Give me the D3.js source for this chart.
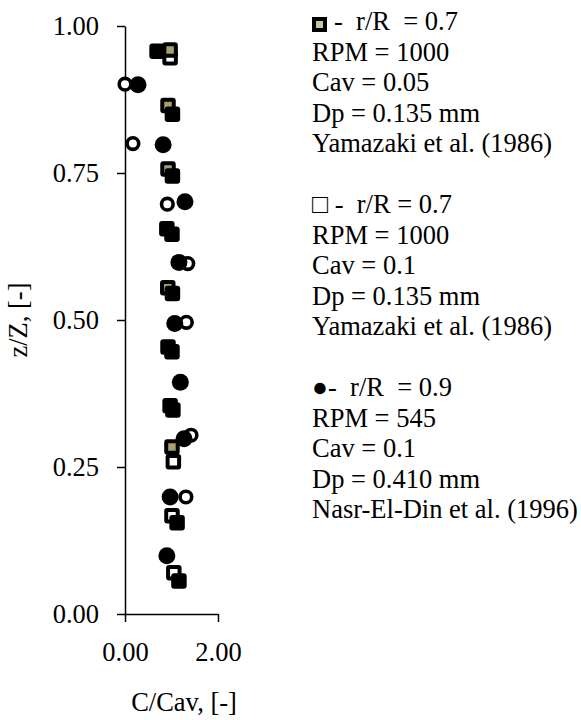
<!DOCTYPE html>
<html>
<head>
<meta charset="utf-8">
<script src="https://cdn.jsdelivr.net/npm/d3@7"></script>
<style>
body { margin: 0; background: #fff; }
text { font-family: "Liberation Serif", "Times New Roman", serif; }
</style>
</head>
<body>
<div></div>
<script>
// points: [C/Cav, z/Z]
const squaresCav005 = [[0.97, 0.959], [0.925, 0.865], [0.925, 0.757], [0.92, 0.555], [1.01, 0.284]];
const squaresCav01 = [[0.97, 0.946], [1.04, 0.259], [1.01, 0.167], [1.05, 0.07]];
const squaresBlack = [[0.69, 0.957], [1.02, 0.85], [1.02, 0.745], [0.9, 0.655], [1.01, 0.646],
  [1.02, 0.545], [0.925, 0.454], [1.01, 0.446], [0.97, 0.354], [1.03, 0.347], [1.12, 0.155], [1.16, 0.056]];
const circlesOpen = [[0.0, 0.901], [0.17, 0.8], [0.91, 0.697], [1.35, 0.596], [1.32, 0.496], [1.42, 0.304], [1.31, 0.199]];
const circlesNasr = [[0.28, 0.9], [0.82, 0.798], [1.29, 0.701], [1.16, 0.598], [1.07, 0.494], [1.19, 0.394],
  [1.27, 0.298], [0.97, 0.199], [0.9, 0.099]];

const xTicks = [0, 2];
const yTicks = [0, 0.25, 0.5, 0.75, 1];

const legend1 = ["-  r/R  = 0.7", "RPM = 1000", "Cav = 0.05", "Dp = 0.135 mm", "Yamazaki et al. (1986)"];
const legend2 = ["\u25A1 -  r/R = 0.7", "RPM = 1000", "Cav = 0.1", "Dp = 0.135 mm", "Yamazaki et al. (1986)"];
const legend3 = ["\u25CF-  r/R  = 0.9", "RPM = 545", "Cav = 0.1", "Dp = 0.410 mm", "Nasr-El-Din et al. (1996)"];

const WIDTH = 581;
const HEIGHT = 720;
const FONT = 26.5;
const KHAKI = "#a89f70";

const svg = d3.select("div").append("svg")
  .attr("width", WIDTH)
  .attr("height", HEIGHT);

const x = d3.scaleLinear().domain([0, 2]).range([125, 218]);
const y = d3.scaleLinear().domain([0, 1]).range([614, 26]);

// axes
const gy = svg.append("g")
  .attr("transform", "translate(125,0)")
  .call(d3.axisLeft(y).tickValues(yTicks).tickFormat(d3.format(".2f"))
    .tickSize(8).tickSizeOuter(0).tickPadding(18));

const gx = svg.append("g")
  .attr("transform", "translate(0,614)")
  .call(d3.axisBottom(x).tickValues(xTicks).tickFormat(d3.format(".2f"))
    .tickSize(8).tickSizeOuter(0).tickPadding(20));

[gx, gy].forEach(g => {
  g.attr("font-family", null).attr("font-size", FONT);
  g.selectAll("path, line").attr("stroke", "#000").attr("stroke-width", 1.5);
  g.selectAll("text").attr("fill", "#000");
});

svg.append("text")
  .attr("transform", "translate(27,320) rotate(-90)")
  .attr("text-anchor", "middle")
  .attr("font-size", FONT)
  .text("z/Z, [-]");

svg.append("text")
  .attr("x", 184)
  .attr("y", 711)
  .attr("text-anchor", "middle")
  .attr("font-size", FONT)
  .text("C/Cav, [-]");

// markers
const SQ = 11.5;
function squares(data, fill) {
  svg.append("g").selectAll("rect")
    .data(data)
    .enter()
    .append("rect")
    .attr("x", d => x(d[0]) - SQ / 2)
    .attr("y", d => y(d[1]) - SQ / 2)
    .attr("width", SQ)
    .attr("height", SQ)
    .attr("rx", 1)
    .attr("fill", fill)
    .attr("stroke", "#000")
    .attr("stroke-width", 4);
}
squares(squaresCav01, "#fff");
squares(squaresCav005, KHAKI);
squares(squaresBlack, "#000");

svg.append("g").selectAll("circle")
  .data(circlesOpen)
  .enter()
  .append("circle")
  .attr("cx", d => x(d[0]))
  .attr("cy", d => y(d[1]))
  .attr("r", 5.8)
  .attr("fill", "#fff")
  .attr("stroke", "#000")
  .attr("stroke-width", 3.6);

svg.append("g").selectAll("circle")
  .data(circlesNasr)
  .enter()
  .append("circle")
  .attr("cx", d => x(d[0]))
  .attr("cy", d => y(d[1]))
  .attr("r", 8.5)
  .attr("fill", "#000");

// legend
const LINE = 30.5;
function legendBlock(lines, top, x0) {
  svg.append("g").selectAll("text")
    .data(lines)
    .enter()
    .append("text")
    .attr("x", (d, i) => i == 0 ? x0 : 312)
    .attr("y", (d, i) => top + i * LINE)
    .attr("font-size", FONT)
    .style("white-space", "pre")
    .text(d => d);
}
legendBlock(legend1, 30, 334);
legendBlock(legend2, 30 + 6 * LINE, 312);
legendBlock(legend3, 30 + 12 * LINE, 312);

svg.append("rect")
  .attr("x", 314)
  .attr("y", 19)
  .attr("width", 11)
  .attr("height", 11)
  .attr("fill", "#c5c5a0")
  .attr("stroke", "#000")
  .attr("stroke-width", 4);
</script>
</body>
</html>
